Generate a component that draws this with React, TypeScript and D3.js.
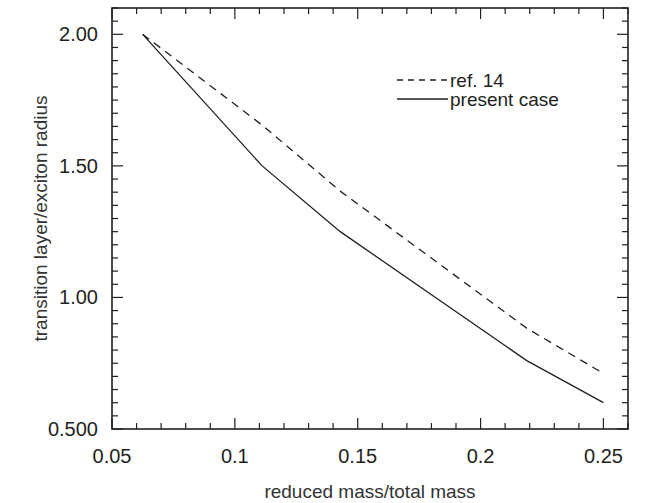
import React, { useEffect, useRef } from 'react';
import * as d3 from 'd3';

// reduced mass / total mass
const massRatio = [0.0625, 0.1111, 0.1429, 0.2188, 0.25];
// transition layer / exciton radius
const presentCase = [2.0, 1.5, 1.25, 0.76, 0.6];
const ref14 = [2.0, 1.655, 1.404, 0.883, 0.711];

const xTickValues = [0.05, 0.1, 0.15, 0.2, 0.25];
const xTickLabels = ['0.05', '0.1', '0.15', '0.2', '0.25'];
const yTickValues = [0.5, 1.0, 1.5, 2.0];
const yTickLabels = ['0.500', '1.00', '1.50', '2.00'];

const legendNames = ['ref. 14', 'present case'];

const App = () => {
  const svgRef = useRef<SVGSVGElement>(null);

  useEffect(() => {
    const W = 654, H = 503;
    const svg = d3.select(svgRef.current).attr('width', W).attr('height', H);
    svg.selectAll('*').remove();

    const left = 112, right = 628, top = 8, bottom = 429;
    const x = d3.scaleLinear().domain([0.05, 0.26]).range([left, right]);
    const y = d3.scaleLinear().domain([0.5, 2.1]).range([bottom, top]);
    const ink = '#231f20';
    const font = '"Liberation Sans", Arial, Helvetica, sans-serif';

    // minor + major ticks on all four sides, pointing inward
    const xt = d3.range(5, 27).map((i) => ({ v: i / 100, major: i % 5 === 0 }));
    const yt = d3.range(10, 43).map((i) => ({ v: i * 0.05, major: i % 10 === 0 }));
    const tl = (d) => (d.major ? 11 : 6);

    const ticks = svg.append('g').attr('stroke', ink).attr('stroke-width', 1.2);
    ticks.selectAll('.xb').data(xt).join('line')
      .attr('x1', (d) => x(d.v)).attr('x2', (d) => x(d.v))
      .attr('y1', bottom).attr('y2', (d) => bottom - tl(d));
    ticks.selectAll('.xt').data(xt).join('line')
      .attr('x1', (d) => x(d.v)).attr('x2', (d) => x(d.v))
      .attr('y1', top).attr('y2', (d) => top + tl(d));
    ticks.selectAll('.yl').data(yt).join('line')
      .attr('y1', (d) => y(d.v)).attr('y2', (d) => y(d.v))
      .attr('x1', left).attr('x2', (d) => left + tl(d));
    ticks.selectAll('.yr').data(yt).join('line')
      .attr('y1', (d) => y(d.v)).attr('y2', (d) => y(d.v))
      .attr('x1', right).attr('x2', (d) => right - tl(d));

    svg.append('rect')
      .attr('x', left).attr('y', top)
      .attr('width', right - left).attr('height', bottom - top)
      .attr('fill', 'none').attr('stroke', ink).attr('stroke-width', 1.6);

    // tick labels
    svg.append('g').selectAll('text').data(xTickValues).join('text')
      .attr('x', (d) => x(d)).attr('y', 463)
      .attr('text-anchor', 'middle')
      .attr('font-family', font).attr('font-size', 20).attr('fill', ink)
      .text((d, i) => xTickLabels[i]);
    svg.append('g').selectAll('text').data(yTickValues).join('text')
      .attr('x', 98).attr('y', (d) => y(d) + 7)
      .attr('text-anchor', 'end')
      .attr('font-family', font).attr('font-size', 20).attr('fill', ink)
      .text((d, i) => yTickLabels[i]);

    // axis titles
    svg.append('text')
      .attr('x', (left + right) / 2).attr('y', 498)
      .attr('text-anchor', 'middle')
      .attr('font-family', font).attr('font-size', 19).attr('fill', '#333')
      .text('reduced mass/total mass');
    svg.append('text')
      .attr('transform', `translate(47,${(top + bottom) / 2}) rotate(-90)`)
      .attr('text-anchor', 'middle')
      .attr('font-family', font).attr('font-size', 19).attr('fill', '#333')
      .text('transition layer/exciton radius');

    // curves
    const line = d3.line<number>()
      .x((d, i) => x(massRatio[i]))
      .y((d) => y(d));

    svg.append('path').datum(ref14)
      .attr('d', line).attr('fill', 'none')
      .attr('stroke', ink).attr('stroke-width', 1.3)
      .attr('stroke-dasharray', '8,6');
    svg.append('path').datum(presentCase)
      .attr('d', line).attr('fill', 'none')
      .attr('stroke', ink).attr('stroke-width', 1.3);

    // legend
    const lg = svg.append('g');
    legendNames.forEach((name, i) => {
      const ly = 80 + i * 19;
      lg.append('line')
        .attr('x1', 397).attr('x2', 448).attr('y1', ly).attr('y2', ly)
        .attr('stroke', ink).attr('stroke-width', 1.3)
        .attr('stroke-dasharray', i === 0 ? '6,5' : null);
      lg.append('text')
        .attr('x', 450).attr('y', ly + 7)
        .attr('font-family', font).attr('font-size', 19).attr('fill', ink)
        .text(name);
    });
  }, []);

  return (
    <div style={{ position: 'absolute', left: 0, top: 0 }}>
      <svg ref={svgRef} style={{ display: 'block' }}></svg>
    </div>
  );
};

export default App;
